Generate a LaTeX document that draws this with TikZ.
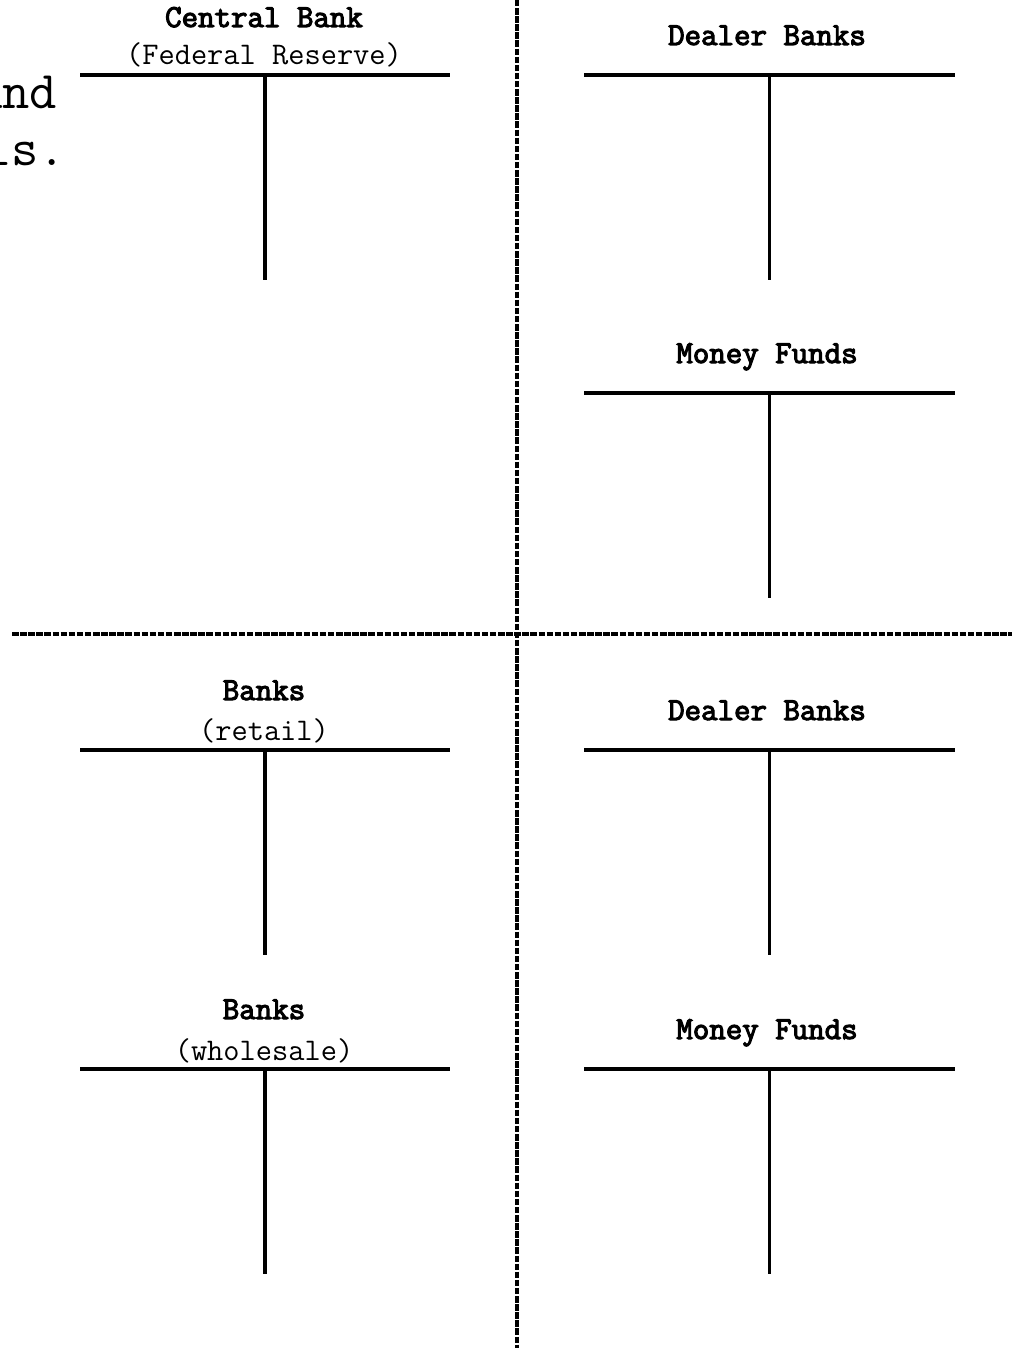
\documentclass[tikz,border=0pt]{standalone}
\usepackage{fontspec}
\setmonofont{Latin Modern Mono}[BoldFont={Latin Modern Mono}, BoldFeatures={FakeBold=3.5}]
\begin{document}
\begin{tikzpicture}[x=1pt,y=-1pt,
  title/.style={font=\ttfamily\bfseries\fontsize{32}{34}\selectfont, anchor=base, inner sep=0pt},
  sub/.style={font=\ttfamily\fontsize{31.5}{34}\selectfont, anchor=base, inner sep=0pt},
  big/.style={font=\ttfamily\fontsize{53}{56}\selectfont, anchor=base west, inner sep=0pt},
  ledger/.style={line width=3.3pt},
  divider/.style={line width=3.2pt, dash pattern=on 6.5pt off 1.6pt}]
\useasboundingbox (0,0) rectangle (1012,1348);
\clip (0,0) rectangle (1012,1348);

% text running in from the left edge
\node[big] (txtA) at (-25,109) {and};
\node[big] (txtB) at (-16,166) {is.};

% quadrant dividers
\coordinate (vTop) at (517,0);
\coordinate (vBot) at (517,1348);
\coordinate (hLeft) at (12,634);
\coordinate (hRight) at (1012,634);
\draw[divider] (vTop) -- (vBot);
\draw[divider] (hLeft) -- (hRight);

% T-accounts: name / centre x / left x / right x / line y
\foreach \n/\cx/\lx/\rx/\ty in {cb/265/80/450/75, dbA/769.5/584/955/75, mfA/769.5/584/955/393,
                               br/265/80/450/750, bw/265/80/450/1069,
                               dbB/769.5/584/955/750, mfB/769.5/584/955/1069}{
  \coordinate (\n L) at (\lx,\ty);
  \coordinate (\n R) at (\rx,\ty);
  \coordinate (\n M) at (\cx,\ty);
  \coordinate (\n B) at (\cx,\ty+205);
  \draw[ledger] (\n L) -- (\n R);
  \draw[ledger] (\n M) -- (\n B);
}

% account titles
\node[title] (cbT) at (264,27) {Central Bank};
\node[sub] (cbS) at (264,65) {(Federal Reserve)};
\node[title] (dbAT) at (767,45) {Dealer Banks};
\node[title] (mfAT) at (767,363) {Money Funds};
\node[title] (brT) at (264,700) {Banks};
\node[sub] (brS) at (264,740) {(retail)};
\node[title] (bwT) at (264,1019) {Banks};
\node[sub] (bwS) at (264,1060) {(wholesale)};
\node[title] (dbBT) at (767,720) {Dealer Banks};
\node[title] (mfBT) at (767,1039) {Money Funds};
\end{tikzpicture}
\end{document}
